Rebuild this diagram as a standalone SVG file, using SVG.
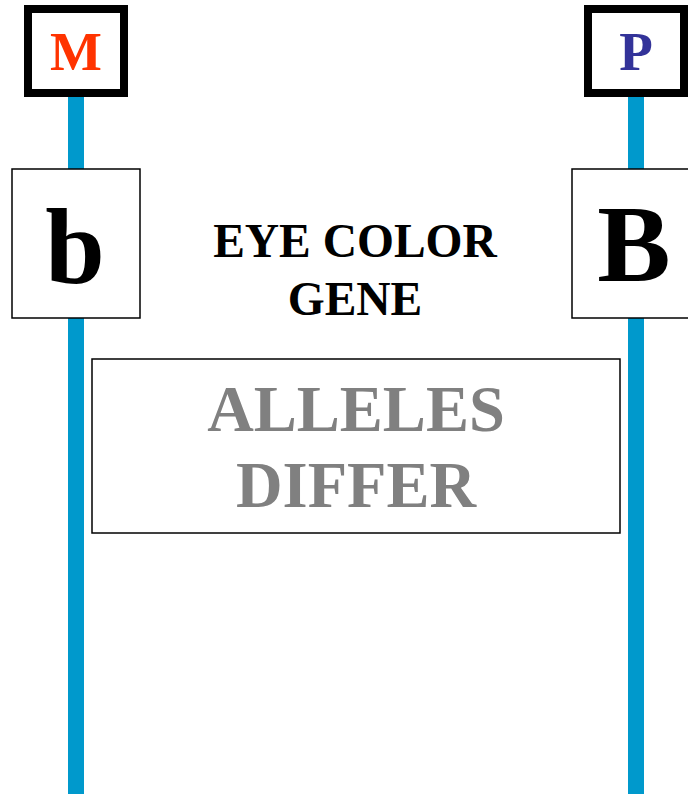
<svg xmlns="http://www.w3.org/2000/svg" width="688" height="794" viewBox="0 0 688 794">
  <style>
    .chrom { stroke: #0099cc; stroke-width: 16; fill: none; }
    .tag { fill: #ffffff; stroke: #000000; stroke-width: 8; }
    .locus { fill: #ffffff; stroke: #000000; stroke-width: 1.5; }
    .serif { font-family: "Liberation Serif", "Times New Roman", serif; font-weight: bold; text-anchor: middle; }
  </style>
  <rect width="688" height="794" fill="#ffffff"/>

  <!-- chromosome strands -->
  <g id="connectors">
    <line class="chrom" x1="76" y1="90" x2="76" y2="794"/>
    <line class="chrom" x1="636" y1="90" x2="636" y2="794"/>
  </g>

  <!-- maternal tag -->
  <g id="maternal">
    <rect class="tag" x="28" y="9" width="96" height="84"/>
    <text class="serif" x="76" y="70" font-size="55" fill="#ff3300">M</text>
  </g>

  <!-- paternal tag -->
  <g id="paternal">
    <rect class="tag" x="588" y="9" width="96" height="84"/>
    <text class="serif" x="636" y="70" font-size="55" fill="#333399">P</text>
  </g>

  <!-- alleles at the locus -->
  <g id="allele-b">
    <rect class="locus" x="12" y="169" width="128" height="149"/>
    <text class="serif" x="75" y="283" font-size="107" fill="#000000">b</text>
  </g>
  <g id="allele-B">
    <rect class="locus" x="572" y="169" width="128" height="149"/>
    <text class="serif" x="634" y="281" font-size="110" fill="#000000">B</text>
  </g>

  <!-- gene label -->
  <g id="gene-label">
    <text class="serif" x="355" y="257" font-size="47.5" fill="#000000">EYE COLOR</text>
    <text class="serif" x="355" y="315" font-size="47.5" fill="#000000">GENE</text>
  </g>

  <!-- note -->
  <g id="note">
    <rect class="locus" x="92" y="359" width="528" height="174"/>
    <text class="serif" x="356" y="431" font-size="64.5" fill="#808080">ALLELES</text>
    <text class="serif" x="356" y="507" font-size="64.5" fill="#808080">DIFFER</text>
  </g>
</svg>
